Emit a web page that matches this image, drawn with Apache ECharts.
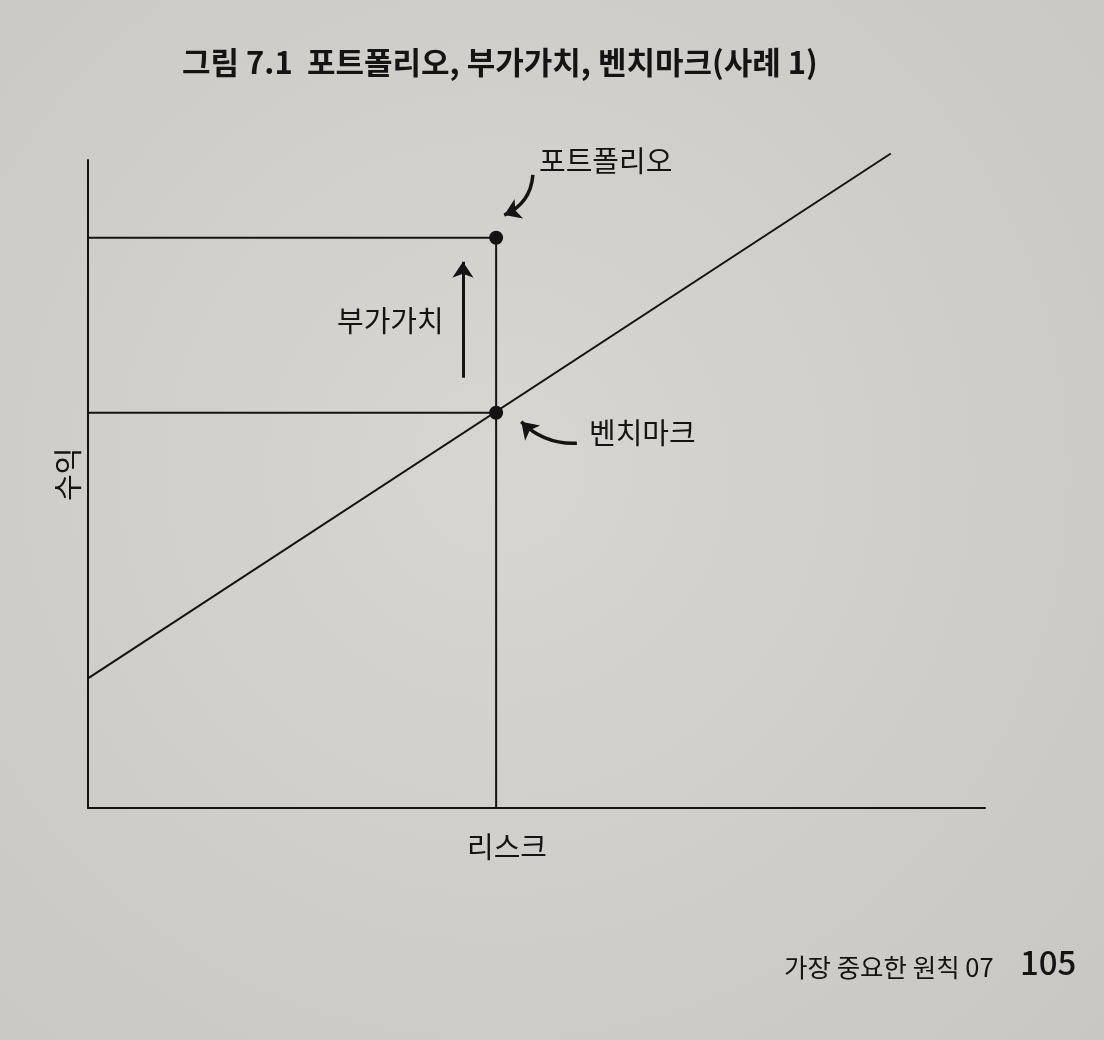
<!DOCTYPE html>
<html>
<head>
<meta charset="utf-8">
<script src="https://cdn.jsdelivr.net/npm/echarts@6/dist/echarts.min.js"></script>
<style>
html,body{margin:0;padding:0;background:#d3d1cd;}
#chart{width:1104px;height:1040px;}
</style>
</head>
<body>
<div id="chart"></div>
<script>
// ---- data (axis units 0..100) ----
const titleLead = '그림 7.1';
const titleText = '포트폴리오, 부가가치, 벤치마크(사례 1)';
const xAxisName = '리스크';
const yAxisName = '수익';
const footerText = '가장 중요한 원칙 07';
const pageNumber = '105';

const portfolioPoint = [45.5, 88];
const benchmarkPoint = [45.5, 61];
const benchmarkLine = [[0, 20], [89.5, 101]];
const portfolioGuide = [[0, 88], [45.5, 88], [45.5, 0]];
const benchmarkGuide = [[0, 61], [45.5, 61]];
const valueAddedArrow = [[41.8, 66.4], [41.8, 84.3]];
const portfolioPointer = [[49.6, 97.7], [46.4, 91.5]];
const benchmarkPointer = [[54.5, 56.3], [48.3, 59.6]];
const labelPortfolio = '포트폴리오';
const labelBenchmark = '벤치마크';
const labelValueAdded = '부가가치';

const FONT = '"Noto Sans CJK KR", "Noto Sans", sans-serif';
const INK = '#141414';

const chart = echarts.init(document.getElementById('chart'), null, {renderer: 'canvas'});

const lineStyle = {color: INK, width: 2};

function arrowSeries(pts, width, curveness, size) {
  return {
    type: 'lines', coordinateSystem: 'cartesian2d', silent: true, z: 4,
    symbol: ['none', 'arrow'], symbolSize: size,
    lineStyle: {color: INK, width: width, type: 'solid', curveness: curveness, opacity: 1},
    emphasis: {disabled: true},
    data: [{coords: [pts[0], pts[1]]}]
  };
}

chart.setOption({
  animation: false,
  backgroundColor: 'transparent',
  grid: {left: 88, top: 160, width: 897, height: 648, containLabel: false},
  xAxis: {
    type: 'value', min: 0, max: 100,
    axisLine: {show: true, lineStyle: {color: INK, width: 2}},
    axisTick: {show: false}, axisLabel: {show: false}, splitLine: {show: false}
  },
  yAxis: {
    type: 'value', min: 0, max: 100,
    axisLine: {show: true, lineStyle: {color: INK, width: 2}},
    axisTick: {show: false}, axisLabel: {show: false}, splitLine: {show: false}
  },
  graphic: [
    {type: 'rect', z: -100, silent: true, shape: {x: 0, y: 0, width: 1104, height: 1040},
     style: {fill: {type: 'radial', x: 0.45, y: 0.45, r: 0.8,
       colorStops: [{offset: 0, color: '#d8d6d2'}, {offset: 1, color: '#c9c7c3'}]}}},
    {type: 'text', left: 182, top: 47, style: {text: titleLead, font: 'bold 31px ' + FONT, fill: INK}},
    {type: 'text', left: 307, top: 47, style: {text: titleText, font: 'bold 31px ' + FONT, fill: INK}},
    {type: 'text', left: 539, top: 146, style: {text: labelPortfolio, font: '29px ' + FONT, fill: INK}},
    {type: 'text', left: 589, top: 418, style: {text: labelBenchmark, font: '29px ' + FONT, fill: INK}},
    {type: 'text', left: 337, top: 306, style: {text: labelValueAdded, font: '29px ' + FONT, fill: INK}},
    {type: 'text', left: 467, top: 832, style: {text: xAxisName, font: '29px ' + FONT, fill: INK}},
    {type: 'text', x: 53, y: 501, rotation: Math.PI / 2, style: {text: yAxisName, font: '29px ' + FONT, fill: INK}},
    {type: 'text', left: 784, top: 955, style: {text: footerText, font: '25.5px ' + FONT, fill: INK}},
    {type: 'text', left: 1020, top: 946, style: {text: pageNumber, font: '500 33px ' + FONT, fill: INK}}
  ],
  series: [
    {type: 'line', data: benchmarkLine, showSymbol: false, clip: false, silent: true, lineStyle: lineStyle},
    {type: 'line', data: portfolioGuide, showSymbol: false, clip: false, silent: true, lineStyle: lineStyle},
    {type: 'line', data: benchmarkGuide, showSymbol: false, clip: false, silent: true, lineStyle: lineStyle},
    {type: 'scatter', data: [portfolioPoint, benchmarkPoint], symbolSize: 14, silent: true,
     itemStyle: {color: INK, opacity: 1}, z: 5},
    arrowSeries(valueAddedArrow, 3, 0, [12, 16]),
    arrowSeries(portfolioPointer, 3.5, 0.3, [16, 16]),
    arrowSeries(benchmarkPointer, 3.5, 0.22, [16, 16])
  ]
});
</script>
</body>
</html>
